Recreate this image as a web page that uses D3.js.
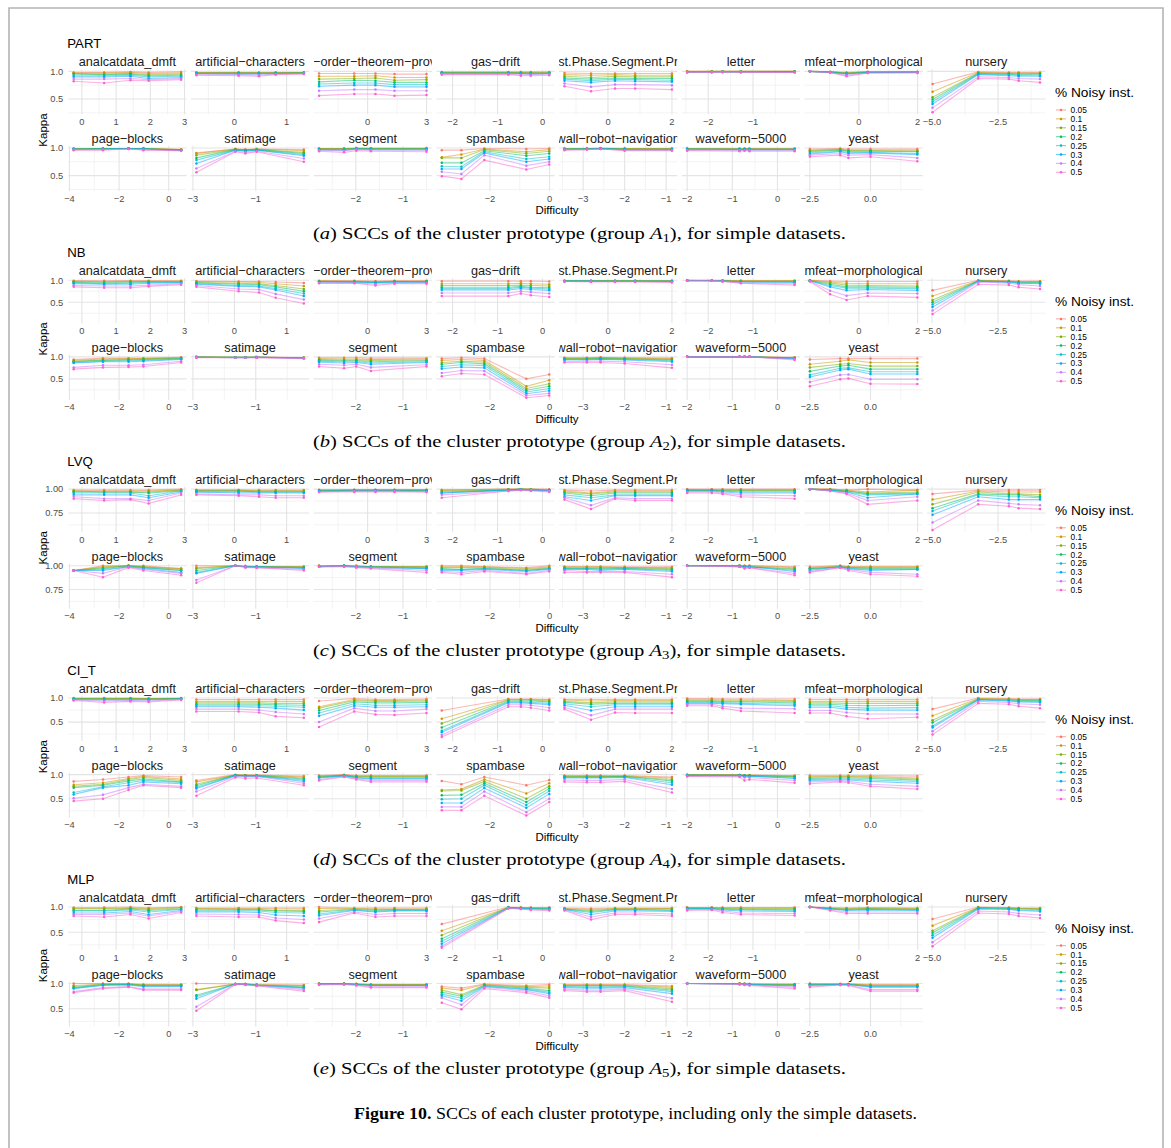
<!DOCTYPE html>
<html><head><meta charset="utf-8">
<script src="https://cdn.jsdelivr.net/npm/d3@7"></script>
<style>
html,body{margin:0;padding:0;background:#fff;}
svg{display:block;}
</style></head><body>
<svg id="chart" width="1171" height="1148"></svg>
<script>
// ---- data ----------------------------------------------------------------
const noiseLevels = ["0.05","0.1","0.15","0.2","0.25","0.3","0.4","0.5"];
const noiseColors = ["#F8766D","#CD9600","#7CAE00","#00BE67","#00BFC4","#00A9FF","#C77CFF","#FF61CC"];
const groupNames = ["PART","NB","LVQ","CI_T","MLP"];
const captionLetters = ["a","b","c","d","e"];
const datasets = ["analcatdata_dmft","artificial-characters","first-order-theorem-proving","gas-drift",
  "st.Phase.Segment.Pr","letter","mfeat-morphological","nursery","page-blocks","satimage","segment",
  "spambase","wall-robot-navigation","waveform-5000","yeast"];

// difficulty of the instances plotted for each dataset
const difficulty = [
  [-0.24,0.65,1.42,1.95,2.90],[-0.73,0.08,0.47,0.79,1.33],[-2.47,-0.68,0.40,1.37,3.00],
  [-2.24,-0.76,-0.48,-0.26,0.15],[-1.36,-0.53,0.22,0.85,2.00],[-2.47,-1.92,-1.68,-1.27,-0.07],
  [-1.67,-0.98,-0.42,0.30,1.99],[-4.98,-3.25,-2.09,-1.72,-0.91],[-3.83,-2.65,-1.62,-1.02,0.50],
  [-2.89,-1.65,-1.33,-0.97,0.53],[-2.78,-2.25,-1.99,-1.68,-0.50],[-3.62,-2.96,-2.19,-0.78,-0.01],
  [-3.45,-2.91,-2.58,-2.00,-0.86],[-2.00,-0.84,-0.73,-0.62,0.38],[-2.50,-1.25,-0.91,0.00,1.93]
];
const xBreaks = [[0,1,2,3],[0,1],[0,3],[-2,-1,0],[0,2],[-2,-1],[0,2],[-5,-2.5],
  [-4,-2,0],[-3,-1],[-2,-1],[-2,0],[-3,-2,-1],[-2,-1,0],[-2.5,0]];
const xBreakLabels = [["0","1","2","3"],["0","1"],["0","3"],["−2","−1","0"],["0","2"],["−2","−1"],
  ["0","2"],["−5.0","−2.5"],["−4","−2","0"],["−3","−1"],["−2","−1"],["−2","0"],["−3","−2","−1"],
  ["−2","−1","0"],["−2.5","0.0"]];
const yBreaks = [[0.5,1.0],[0.5,1.0],[0.75,1.0],[0.5,1.0],[0.5,1.0]];
const yBreakLabels = [["0.5","1.0"],["0.5","1.0"],["0.75","1.00"],["0.5","1.0"],["0.5","1.0"]];

// Kappa (x100): one string per dataset, series separated by "|" in noise-level order
const kappaPART = [
  "98 98 99 98 99|97 97 98 96 97|96 95 96 94 95|95 94 95 92 93|92 92 93 90 91|90 90 91 87 89|86 86 87 85 87|82 79 84 83 85",
  "98 98 98 98 98|98 98 97 98 98|97 97 97 97 98|97 97 97 97 97|96 96 96 96 97|96 95 95 96 96|94 94 93 95 96|93 92 91 94 95",
  "96 96 96 95 95|91 91 92 89 89|86 87 88 84 85|81 84 83 80 80|77 79 79 76 76|73 75 75 72 72|65 67 67 65 65|56 59 59 56 57",
  "99 99 99 99 99|98 98 98 98 98|98 98 98 97 97|97 97 97 97 97|97 97 96 96 96|96 96 96 95 96|95 95 94 94 95|94 94 92 92 93",
  "97 96 96 96 96|94 93 94 93 93|91 89 91 90 90|88 86 88 87 87|86 83 86 85 84|83 80 83 82 81|78 72 76 76 75|73 64 69 69 67",
  "100 100 100 100 100|100 100 100 100 100|99 100 100 100 100|99 99 99 99 99|99 99 99 99 99|99 99 99 99 99|99 99 99 99 98|98 98 99 98 98",
  "100 99 98 99 99|100 99 97 99 99|100 99 97 99 99|100 99 96 98 99|100 98 96 98 98|100 98 95 98 98|100 98 93 97 98|100 98 91 97 97",
  "77 99 98 98 98|63 98 97 97 97|53 97 96 96 96|49 96 95 94 95|45 95 94 93 93|41 94 92 91 91|34 90 89 87 86|26 87 86 83 80",
  "99 99 99 99 97|99 99 99 99 97|98 99 99 99 97|98 99 99 99 96|98 98 99 98 96|97 98 99 98 96|97 97 98 97 95|96 96 98 96 95",
  "91 98 97 98 97|90 98 97 98 95|87 97 96 97 92|82 97 96 97 90|78 96 95 96 88|72 96 94 96 86|63 94 92 94 81|56 93 90 93 75",
  "99 99 100 100 100|99 99 99 99 99|98 98 99 99 99|98 98 99 98 98|97 97 98 98 98|97 96 98 97 97|96 95 97 96 96|94 92 95 94 93",
  "96 96 99 98 99|83 88 98 93 97|82 82 97 90 94|73 73 95 86 90|67 66 93 80 84|62 62 91 75 80|57 53 87 68 75|49 44 78 61 70",
  "99 99 100 99 99|99 99 99 99 99|98 99 99 98 98|98 98 99 98 98|98 98 99 97 97|97 98 99 97 97|97 97 98 96 96|96 97 98 95 95",
  "99 99 99 99 99|99 98 98 98 98|98 98 98 98 98|98 98 98 98 98|98 97 97 97 97|97 97 97 97 97|96 96 96 96 96|95 94 95 94 94",
  "98 99 98 98 98|96 98 96 96 96|95 97 95 95 94|93 96 94 94 93|91 94 92 92 90|89 93 90 91 88|87 90 87 88 82|84 87 82 84 76"
];
const kappaNB = [
  "99 99 99 99 99|98 97 98 98 98|97 96 97 97 97|95 94 95 96 96|94 92 93 95 95|92 91 91 93 94|88 87 87 89 92|85 83 83 86 90",
  "98 97 97 96 94|97 96 95 92 87|95 93 92 88 80|94 91 90 85 75|92 88 87 81 70|91 86 85 78 64|88 80 79 69 56|85 75 72 60 47",
  "99 99 98 99 99|98 98 97 98 98|98 97 96 97 97|97 97 95 97 97|96 96 95 96 96|96 95 94 95 95|94 94 91 93 94|93 93 88 92 92",
  "98 98 98 98 97|92 92 93 92 91|88 88 89 88 87|84 84 86 84 83|81 81 84 82 80|78 78 81 79 77|71 71 75 73 70|64 64 70 66 62",
  "99 99 99 99 99|99 99 99 99 99|99 99 99 99 98|98 98 98 98 98|98 98 98 98 98|98 98 97 97 97|97 97 97 97 96|97 96 96 96 95",
  "100 100 100 99 99|100 100 99 99 99|100 99 99 98 98|99 99 99 97 97|99 99 98 96 96|99 99 98 96 95|99 99 98 94 92|99 99 97 93 89",
  "100 98 97 97 97|100 96 93 92 92|99 94 89 88 87|99 91 85 85 84|99 88 82 82 81|99 85 77 79 77|98 76 65 71 70|97 68 55 64 61",
  "77 100 99 98 98|64 99 98 97 97|55 99 97 96 96|50 98 97 95 95|45 98 96 94 93|39 97 95 93 92|31 96 93 90 87|23 91 89 84 80",
  "94 97 97 97 99|92 95 96 96 98|90 93 94 95 97|89 92 93 94 96|87 90 91 92 95|86 89 89 90 94|76 81 81 82 90|72 76 77 78 87",
  "100 99 99 100 98|100 99 99 99 98|100 99 99 99 98|99 99 99 99 98|99 99 99 99 97|99 98 98 99 97|99 98 98 98 97|98 98 98 98 96",
  "98 98 98 97 97|96 95 95 94 95|94 93 93 92 93|92 91 91 89 91|90 89 89 86 89|88 86 87 83 87|83 81 83 76 82|78 74 78 68 78",
  "96 98 96 50 60|92 94 92 33 47|87 90 88 28 39|83 87 84 24 33|78 82 80 20 28|73 77 75 16 23|63 69 68 12 17|56 62 60 7 12",
  "98 98 99 98 97|97 97 98 97 96|96 96 97 96 94|95 95 96 95 93|94 94 95 94 91|93 93 94 93 89|89 90 90 89 82|87 87 87 85 75",
  "100 100 100 100 99|100 100 100 100 98|100 100 100 100 98|100 100 100 100 97|100 100 100 100 96|100 100 100 100 96|100 100 100 100 95|100 100 100 100 93",
  "94 96 96 96 96|83 90 93 87 87|76 83 85 79 79|67 79 81 72 72|59 74 75 66 66|54 70 72 61 61|43 59 60 49 49|33 49 51 39 38"
];
const kappaLVQ = [
  "99 99 99 99 100|98 98 98 98 99|98 97 97 97 99|97 97 97 96 98|96 96 96 93 98|94 94 94 91 97|92 90 90 88 96|90 88 89 85 94",
  "99 99 99 99 99|99 99 98 98 98|98 98 98 98 98|98 98 97 97 97|97 97 97 97 97|97 96 96 96 96|95 94 94 93 93|94 93 92 91 91",
  "99 99 99 99 99|99 99 99 99 99|99 99 99 99 99|98 99 99 99 99|98 98 98 98 98|98 98 98 98 98|97 98 98 98 97|97 97 97 97 97",
  "99 100 100 100 100|99 100 100 100 99|98 99 100 100 99|97 99 100 99 99|96 99 100 99 98|96 99 99 99 98|94 98 99 99 98|91 98 99 98 97",
  "99 98 99 99 99|98 96 98 98 98|97 95 97 97 97|96 93 96 96 96|94 91 94 94 94|92 88 93 93 93|91 83 91 90 90|89 79 90 88 88",
  "100 100 100 100 100|99 99 99 99 99|99 99 99 99 99|99 99 98 98 98|98 98 98 97 97|98 98 97 96 96|97 97 96 94 93|96 96 95 92 90",
  "100 100 99 100 99|100 100 99 97 99|100 99 98 96 97|100 99 98 95 96|100 99 97 94 95|100 99 97 91 95|100 98 96 88 92|100 98 95 84 88",
  "95 99 99 99 99|89 98 97 97 97|84 97 95 95 94|80 95 94 94 92|77 94 92 92 91|73 92 89 89 89|65 88 85 84 83|57 84 82 80 79",
  "95 100 100 100 97|95 99 100 99 97|95 98 100 99 96|95 97 100 98 95|95 96 99 98 95|95 95 99 97 93|95 92 99 96 92|95 88 98 95 90",
  "100 100 100 99 99|98 100 99 99 99|97 100 99 99 99|95 100 99 99 98|93 100 99 99 98|92 100 99 99 97|85 100 99 98 96|82 100 98 98 95",
  "100 100 100 99 99|100 100 100 99 99|100 100 99 99 99|99 100 99 99 98|99 100 99 99 97|99 100 99 98 97|99 99 99 98 95|99 99 98 97 93",
  "100 100 99 98 100|99 99 99 97 99|98 98 98 96 98|97 96 97 95 97|96 96 97 95 97|95 95 96 94 96|94 93 95 92 95|93 91 94 91 94",
  "99 99 99 99 99|99 99 99 98 98|98 98 98 98 97|97 97 97 97 96|97 97 96 97 95|96 96 95 96 94|95 94 94 94 91|93 93 93 93 88",
  "100 100 100 100 99|100 100 100 100 98|100 100 99 99 97|100 100 99 99 96|100 100 99 99 95|100 99 99 99 94|100 99 98 98 92|100 99 97 98 90",
  "99 100 99 99 99|98 100 99 99 99|97 99 98 98 98|97 99 98 97 97|96 99 97 96 96|95 99 97 95 96|94 98 96 93 91|93 98 95 91 89"
];
const kappaCIT = [
  "100 100 100 99 100|99 99 99 99 99|99 99 99 98 99|98 98 98 98 99|98 97 97 97 98|97 96 96 96 98|96 94 95 94 97|95 91 93 92 96",
  "97 97 97 97 97|93 93 93 93 93|90 90 90 89 89|87 87 87 86 85|84 84 84 83 81|82 82 81 79 75|77 77 75 71 67|72 72 70 62 59",
  "94 99 97 97 98|82 97 95 95 96|79 95 93 93 94|74 92 90 90 91|69 88 85 85 86|63 84 81 81 82|50 79 73 73 77|40 72 66 65 69",
  "74 98 98 98 97|57 97 97 97 96|47 96 96 96 94|39 94 94 94 92|32 92 92 91 89|29 90 90 89 86|23 86 86 85 80|19 82 82 80 74",
  "97 97 97 97 97|96 94 95 95 95|93 90 92 92 92|91 87 89 89 89|88 82 86 86 86|85 74 82 82 82|81 64 77 77 77|77 55 70 69 69",
  "99 99 98 98 98|97 97 96 96 95|95 95 94 94 93|93 93 92 92 90|91 91 90 89 87|89 89 88 87 84|87 87 83 79 78|84 84 79 73 69",
  "97 97 97 97 97|93 93 93 93 93|90 90 89 89 89|87 87 85 84 85|84 84 81 79 80|81 81 77 75 75|74 74 70 67 67|69 69 62 57 60",
  "77 100 99 98 98|63 99 98 97 97|54 98 97 96 96|49 97 96 95 95|42 97 95 93 93|39 96 94 92 91|31 93 91 88 86|24 89 87 83 79",
  "86 90 95 98 95|79 83 92 96 91|76 80 90 94 88|73 78 87 91 85|63 75 83 88 84|59 73 78 85 81|51 58 73 80 76|45 50 68 78 73",
  "88 100 99 99 97|85 99 99 99 95|80 99 98 98 93|77 99 98 98 91|74 98 97 97 89|71 98 97 97 86|65 96 95 96 82|56 94 92 93 78",
  "98 100 98 98 98|97 99 97 97 97|96 99 96 96 96|95 98 95 94 94|94 98 94 92 92|93 97 93 91 91|90 96 91 88 88|88 95 90 85 85",
  "87 80 95 78 89|68 70 90 61 82|66 67 86 50 76|57 58 82 43 71|49 50 78 37 66|41 41 72 31 60|33 33 65 22 50|26 26 56 15 43",
  "98 98 98 98 95|97 97 97 97 93|96 96 96 96 90|95 95 95 96 87|94 94 94 95 83|93 93 93 94 79|89 88 88 90 70|85 84 84 86 63",
  "100 100 99 99 98|100 99 99 99 97|99 99 98 98 96|99 99 98 98 95|99 98 97 97 93|98 98 97 97 92|97 97 94 94 88|96 95 88 90 83",
  "98 98 98 98 97|96 96 96 96 93|94 95 95 94 91|92 93 93 92 89|90 91 91 89 86|88 89 89 86 82|85 87 86 80 76|81 85 83 76 70"
];
const kappaMLP = [
  "99 99 100 98 100|97 97 98 97 99|96 96 97 95 98|93 93 96 93 96|92 92 94 90 95|88 88 91 85 93|85 85 88 82 91|82 80 85 77 89",
  "98 98 98 98 98|97 97 97 96 96|96 95 95 93 93|94 94 94 92 91|92 92 92 89 88|90 90 89 84 82|86 85 84 78 75|82 80 80 73 68",
  "100 98 98 98 98|97 97 96 96 96|93 96 95 95 95|90 95 93 94 94|86 94 91 93 93|83 93 90 92 92|77 90 85 87 87|70 88 80 82 82",
  "66 100 99 99 99|53 99 99 98 98|44 99 98 98 98|37 99 98 97 97|32 98 97 97 96|27 98 97 96 95|22 98 96 95 94|19 97 96 94 93",
  "98 97 98 98 98|97 95 97 97 97|96 93 96 96 96|96 91 95 95 94|95 89 94 94 93|95 85 92 92 91|94 80 88 88 86|93 75 85 85 82",
  "99 99 99 99 99|99 99 98 98 98|98 98 97 97 97|97 97 96 95 95|97 97 95 94 93|96 96 94 92 91|95 95 92 88 87|93 94 89 85 83",
  "100 99 98 99 98|100 98 97 98 97|100 97 96 97 96|100 97 95 96 95|100 96 94 95 94|100 96 93 94 93|100 94 90 90 90|100 93 87 87 87",
  "76 100 99 98 98|63 99 98 97 97|53 99 98 97 96|49 98 97 96 95|44 97 96 94 93|39 96 95 93 91|30 92 90 87 84|22 88 86 82 78",
  "100 100 100 98 98|96 99 99 97 97|94 98 99 97 97|92 98 98 96 96|91 97 98 95 95|90 96 97 94 94|84 92 94 89 89|82 90 93 87 87",
  "100 99 99 98 97|88 99 99 98 96|87 99 99 97 95|77 99 99 97 93|74 99 98 97 92|70 99 98 96 91|54 99 98 96 88|46 98 97 95 85",
  "100 100 99 98 98|100 100 99 98 98|99 100 99 97 97|99 99 98 97 97|99 99 98 96 96|99 99 98 96 96|98 98 97 94 94|97 98 96 92 92",
  "94 91 99 96 98|91 87 98 94 95|87 78 97 93 91|83 75 96 91 86|79 71 95 89 83|76 66 94 88 80|72 58 93 85 76|62 49 90 82 72",
  "98 98 98 98 95|97 97 97 97 93|96 96 96 96 90|95 95 95 95 87|94 93 93 94 84|92 91 91 92 80|89 87 87 89 71|86 84 84 86 64",
  "100 100 100 99 99|100 100 99 99 98|100 100 99 99 98|100 99 99 98 97|100 99 99 98 96|100 99 98 98 95|100 99 98 97 93|100 98 97 96 90",
  "100 99 99 98 98|99 99 99 97 97|98 99 99 96 96|98 98 98 95 95|97 98 98 94 94|96 98 98 93 93|95 97 97 88 88|93 97 96 85 85"
];
const groupKappa = [kappaPART, kappaNB, kappaLVQ, kappaCIT, kappaMLP];

// ---- layout ----------------------------------------------------------------
const FONT = "'Liberation Sans', Arial, Helvetica, sans-serif";
const SERIF = "'Liberation Serif', 'DejaVu Serif', serif";
const PANEL_W = 118.2, PANEL_H = 45, COL_PITCH = 122.7, LEFT = 68.3;
const GROUP_PITCH = 208.9, ROW_PITCH = 76.6, TOP0 = 69.3;
const NCOL = 8;

const svg = d3.select("#chart");
svg.append("rect").attr("width", 1171).attr("height", 1148).attr("fill", "#fff");
svg.append("path")
  .attr("d", "M9,1150V8H1163V1150")
  .attr("fill", "none").attr("stroke", "#b4b4b4").attr("stroke-width", 1.6);

const defs = svg.append("defs");
for (let c = 0; c < NCOL; c++) {
  defs.append("clipPath").attr("id", `strip-${c}`)
    .append("rect").attr("x", LEFT + c * COL_PITCH).attr("y", 0)
    .attr("width", PANEL_W).attr("height", 1148);
}

const parseSeries = s => s.split("|").map(t => t.trim().split(/\s+/).map(v => +v / 100));

function minorBreaks(breaks, domain) {
  const step = breaks[1] - breaks[0];
  const out = [];
  for (let v = breaks[0] - step / 2; v <= breaks[breaks.length - 1] + step / 2 + 1e-9; v += step) {
    if (v >= domain[0] && v <= domain[1]) out.push(v);
  }
  return out;
}

// strip labels are centred on the panel and cut at its edges
function stripLabel(sel, label, px, col, yPos) {
  const t = sel.append("text").attr("x", px + PANEL_W / 2).attr("y", yPos)
    .attr("text-anchor", "middle").attr("font-family", FONT).attr("font-size", 12.7)
    .attr("fill", "#1a1a1a").text(label);
  const node = t.node();
  const n = node.getNumberOfChars();
  let first = -1, last = -1;
  for (let i = 0; i < n; i++) {
    const s = node.getStartPositionOfChar(i).x, e = node.getEndPositionOfChar(i).x;
    if (e > px + 0.5 && s < px + PANEL_W - 0.5) { if (first < 0) first = i; last = i; }
  }
  if (first > 0 || last < n - 1) {
    const x0 = node.getStartPositionOfChar(first).x;
    t.attr("text-anchor", "start").attr("x", x0).text(label.slice(first, last + 1));
  }
  t.attr("clip-path", `url(#strip-${col})`);
}

groupNames.forEach((gName, gi) => {
  const G = gi * GROUP_PITCH;
  const g = svg.append("g").attr("class", "group-" + gName);
  const series = groupKappa[gi].map(parseSeries);
  const allVals = series.flat(2);
  const lo = d3.min(allVals), hi = d3.max(allVals), ypad = (hi - lo) * 0.05;
  const yDomain = [lo - ypad, hi + ypad];
  const yMinor = minorBreaks(yBreaks[gi], yDomain);

  // group title
  g.append("text").attr("x", 67.3).attr("y", 48 + G)
    .attr("font-family", FONT).attr("font-size", 13.2).attr("fill", "#000").text(gName);

  datasets.forEach((ds, di) => {
    const row = di < NCOL ? 0 : 1, col = di < NCOL ? di : di - NCOL;
    const px = LEFT + col * COL_PITCH, py = TOP0 + G + row * ROW_PITCH;
    const xs = difficulty[di];
    const xlo = d3.min(xs), xhi = d3.max(xs), xpad = (xhi - xlo) * 0.05;
    const x = d3.scaleLinear().domain([xlo - xpad, xhi + xpad]).range([px, px + PANEL_W]);
    const y = d3.scaleLinear().domain(yDomain).range([py + PANEL_H, py]);
    const panel = g.append("g");

    // grid
    const xMinor = minorBreaks(xBreaks[di], x.domain());
    const xMajor = xBreaks[di].filter(v => v >= x.domain()[0] && v <= x.domain()[1]);
    const yMajor = yBreaks[gi].filter(v => v >= yDomain[0] && v <= yDomain[1]);
    panel.selectAll(".vmin").data(xMinor).join("line")
      .attr("x1", d => x(d)).attr("x2", d => x(d)).attr("y1", py).attr("y2", py + PANEL_H)
      .attr("stroke", "#ebebeb").attr("stroke-width", 0.6);
    panel.selectAll(".hmin").data(yMinor).join("line")
      .attr("x1", px).attr("x2", px + PANEL_W).attr("y1", d => y(d)).attr("y2", d => y(d))
      .attr("stroke", "#ebebeb").attr("stroke-width", 0.6);
    panel.selectAll(".vmaj").data(xMajor).join("line")
      .attr("x1", d => x(d)).attr("x2", d => x(d)).attr("y1", py).attr("y2", py + PANEL_H)
      .attr("stroke", "#e4e4e4").attr("stroke-width", 1.1);
    panel.selectAll(".hmaj").data(yMajor).join("line")
      .attr("x1", px).attr("x2", px + PANEL_W).attr("y1", d => y(d)).attr("y2", d => y(d))
      .attr("stroke", "#e4e4e4").attr("stroke-width", 1.1);

    // strip label
    stripLabel(panel, ds.replace(/-/g, "−"), px, col, py - 3.0);

    // x tick labels
    panel.selectAll(".xt").data(xMajor).join("text")
      .attr("x", d => x(d)).attr("y", py + PANEL_H + 10.6)
      .attr("text-anchor", "middle").attr("font-family", FONT).attr("font-size", 9.3)
      .attr("fill", "#4d4d4d")
      .text(d => xBreakLabels[di][xBreaks[di].indexOf(d)]);

    // y tick labels on first column
    if (col === 0) {
      panel.selectAll(".yt").data(yMajor).join("text")
        .attr("x", px - 5).attr("y", d => y(d)).attr("dy", "0.36em")
        .attr("text-anchor", "end").attr("font-family", FONT).attr("font-size", 9.3)
        .attr("fill", "#4d4d4d")
        .text(d => yBreakLabels[gi][yBreaks[gi].indexOf(d)]);
    }

    // series: translucent lines, solid points
    const line = d3.line().x((d, i) => x(xs[i])).y(d => y(d));
    series[di].forEach((vals, si) => {
      panel.append("path").attr("d", line(vals)).attr("fill", "none")
        .attr("stroke", noiseColors[si]).attr("stroke-width", 1.1).attr("stroke-opacity", 0.5);
    });
    series[di].forEach((vals, si) => {
      panel.selectAll(null).data(vals).join("circle")
        .attr("cx", (d, i) => x(xs[i])).attr("cy", d => y(d)).attr("r", 1.25)
        .attr("fill", noiseColors[si]);
    });
  });

  // axis titles
  g.append("text").attr("x", 557).attr("y", 214 + G).attr("text-anchor", "middle")
    .attr("font-family", FONT).attr("font-size", 11.5).text("Difficulty");
  g.append("text").attr("transform", `translate(47,${130 + G}) rotate(-90)`)
    .attr("text-anchor", "middle").attr("font-family", FONT).attr("font-size", 11.5).text("Kappa");

  // legend
  const lg = g.append("g");
  lg.append("text").attr("x", 1055).attr("y", 97 + G).attr("font-family", FONT)
    .attr("font-size", 13.7).text("% Noisy inst.");
  noiseLevels.forEach((lv, i) => {
    const ly = 110 + i * 8.9 + G;
    lg.append("line").attr("x1", 1056).attr("x2", 1066).attr("y1", ly).attr("y2", ly)
      .attr("stroke", noiseColors[i]).attr("stroke-width", 1.1).attr("stroke-opacity", 0.6);
    lg.append("circle").attr("cx", 1061).attr("cy", ly).attr("r", 1.25).attr("fill", noiseColors[i]);
    lg.append("text").attr("x", 1070.5).attr("y", ly).attr("dy", "0.36em").attr("font-family", FONT)
      .attr("font-size", 8.4).text(lv);
  });

  // sub caption
  const cap = g.append("text").attr("x", 579.5).attr("y", 238.5 + G).attr("text-anchor", "middle")
    .attr("font-family", SERIF).attr("font-size", 16)
    .attr("textLength", 533).attr("lengthAdjust", "spacingAndGlyphs");
  cap.append("tspan").text("(");
  cap.append("tspan").attr("font-style", "italic").text(captionLetters[gi]);
  cap.append("tspan").text(") SCCs of the cluster prototype (group ");
  cap.append("tspan").attr("font-style", "italic").text("A");
  cap.append("tspan").attr("font-size", 11.5).attr("dy", 3).text(String(gi + 1));
  cap.append("tspan").attr("dy", -3).text("), for simple datasets.");
});

// figure caption
const fig = svg.append("text").attr("x", 635.5).attr("y", 1118.5).attr("text-anchor", "middle")
  .attr("font-family", SERIF).attr("font-size", 17.5)
  .attr("textLength", 563).attr("lengthAdjust", "spacingAndGlyphs");
fig.append("tspan").attr("font-weight", "bold").text("Figure 10.");
fig.append("tspan").text(" SCCs of each cluster prototype, including only the simple datasets.");
</script>
</body></html>
